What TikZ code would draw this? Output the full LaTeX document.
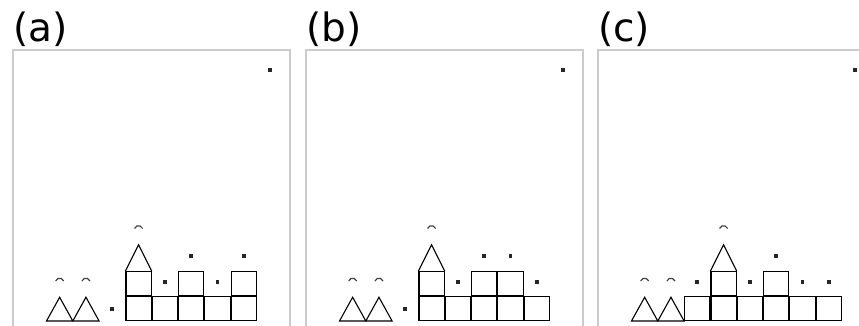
\documentclass[tikz,border=0pt]{standalone}
\usepackage{fontspec}
\setmainfont{DejaVu Sans}
\usetikzlibrary{positioning}

\begin{document}
\begin{tikzpicture}[x=1pt, y=1pt,
  panel/.style={draw=black!20, line width=1.4pt},
  tag/.style={anchor=base west, inner sep=0pt, font=\fontsize{39}{39}\selectfont},
  cell/.style={draw, line width=1.1pt, minimum width=25.2pt, minimum height=23.9pt, inner sep=0pt},
  pebble/.style={fill=black!85, minimum size=3.8pt, inner sep=0pt},
  peak/.style={draw, line width=1.1pt},
  hat/.style={draw=black!75, line width=1.2pt}
]
\useasboundingbox (0,0) rectangle (859,325);
\clip (0,0) rectangle (859,325);

% frames and tags
\draw[panel] (13,-10) |- (290,275) -- (290,-10);
\draw[panel] (306,-10) |- (583,275) -- (583,-10);
\draw[panel] (598,-10) |- (875,275) -- (875,-10);
\node[tag] (ta) at (13,284) {(a)};
\node[tag] (tb) at (306,284) {(b)};
\node[tag] (tc) at (598,284) {(c)};

% panel (a)
\begin{scope}[shift={(46.5pt,4pt)}, x=26.3pt, y=25pt]
\draw[peak] (1,0) -- (0,0) -- (0.5,0.95) -- (1,0) -- (1.5,0.95) -- (2,0) -- (1,0);
\draw[hat] ([xshift=-4pt]0.5,1.6) arc[start angle=160, end angle=20, radius=4.3pt];
\draw[hat] ([xshift=-4pt]1.5,1.6) arc[start angle=160, end angle=20, radius=4.3pt];
\node[pebble] (a-p2) at (2.5,0.48) {};
\node[cell] (a-g3) at (3.5,0.5) {};
\node[cell, right=0pt of a-g3] (a-g4) {};
\node[cell, right=0pt of a-g4] (a-g5) {};
\node[cell, right=0pt of a-g5] (a-g6) {};
\node[cell, right=0pt of a-g6] (a-g7) {};
\node[cell, above=0pt of a-g3] (a-u3) {};
\node[cell, above=0pt of a-g5] (a-u5) {};
\node[cell, above=0pt of a-g7] (a-u7) {};
\node[pebble] (a-p4) at (4.5,1.56) {};
\node[pebble] (a-p6) at (6.5,1.56) {};
\node[pebble] (a-q5) at (5.5,2.61) {};
\node[pebble] (a-q7) at (7.5,2.61) {};
\draw[peak] (a-u3.north west) -- (3.5,3.05) -- (a-u3.north east);
\draw[hat] ([xshift=-4pt]3.5,3.7) arc[start angle=160, end angle=20, radius=4.3pt];
\node[pebble] (a-top) at (8.5,10.04) {};
\end{scope}

% panel (b)
\begin{scope}[shift={(339.5pt,4pt)}, x=26.3pt, y=25pt]
\draw[peak] (1,0) -- (0,0) -- (0.5,0.95) -- (1,0) -- (1.5,0.95) -- (2,0) -- (1,0);
\draw[hat] ([xshift=-4pt]0.5,1.6) arc[start angle=160, end angle=20, radius=4.3pt];
\draw[hat] ([xshift=-4pt]1.5,1.6) arc[start angle=160, end angle=20, radius=4.3pt];
\node[pebble] (b-p2) at (2.5,0.48) {};
\node[cell] (b-g3) at (3.5,0.5) {};
\node[cell, right=0pt of b-g3] (b-g4) {};
\node[cell, right=0pt of b-g4] (b-g5) {};
\node[cell, right=0pt of b-g5] (b-g6) {};
\node[cell, right=0pt of b-g6] (b-g7) {};
\node[cell, above=0pt of b-g3] (b-u3) {};
\node[cell, above=0pt of b-g5] (b-u5) {};
\node[cell, above=0pt of b-g6] (b-u6) {};
\node[pebble] (b-p4) at (4.5,1.56) {};
\node[pebble] (b-p7) at (7.5,1.56) {};
\node[pebble] (b-q5) at (5.5,2.61) {};
\node[pebble] (b-q6) at (6.5,2.61) {};
\draw[peak] (b-u3.north west) -- (3.5,3.05) -- (b-u3.north east);
\draw[hat] ([xshift=-4pt]3.5,3.7) arc[start angle=160, end angle=20, radius=4.3pt];
\node[pebble] (b-top) at (8.5,10.04) {};
\end{scope}

% panel (c)
\begin{scope}[shift={(631.5pt,4pt)}, x=26.3pt, y=25pt]
\draw[peak] (1,0) -- (0,0) -- (0.5,0.95) -- (1,0) -- (1.5,0.95) -- (2,0) -- (1,0);
\draw[hat] ([xshift=-4pt]0.5,1.6) arc[start angle=160, end angle=20, radius=4.3pt];
\draw[hat] ([xshift=-4pt]1.5,1.6) arc[start angle=160, end angle=20, radius=4.3pt];
\node[cell] (c-g2) at (2.5,0.5) {};
\node[cell, right=0pt of c-g2] (c-g3) {};
\node[cell, right=0pt of c-g3] (c-g4) {};
\node[cell, right=0pt of c-g4] (c-g5) {};
\node[cell, right=0pt of c-g5] (c-g6) {};
\node[cell, right=0pt of c-g6] (c-g7) {};
\node[cell, above=0pt of c-g3] (c-u3) {};
\node[cell, above=0pt of c-g5] (c-u5) {};
\node[pebble] (c-p2) at (2.5,1.56) {};
\node[pebble] (c-p4) at (4.5,1.56) {};
\node[pebble] (c-p6) at (6.5,1.56) {};
\node[pebble] (c-p7) at (7.5,1.56) {};
\node[pebble] (c-q5) at (5.5,2.61) {};
\draw[peak] (c-u3.north west) -- (3.5,3.05) -- (c-u3.north east);
\draw[hat] ([xshift=-4pt]3.5,3.7) arc[start angle=160, end angle=20, radius=4.3pt];
\node[pebble] (c-top) at (8.5,10.04) {};
\end{scope}
\end{tikzpicture}
\end{document}
